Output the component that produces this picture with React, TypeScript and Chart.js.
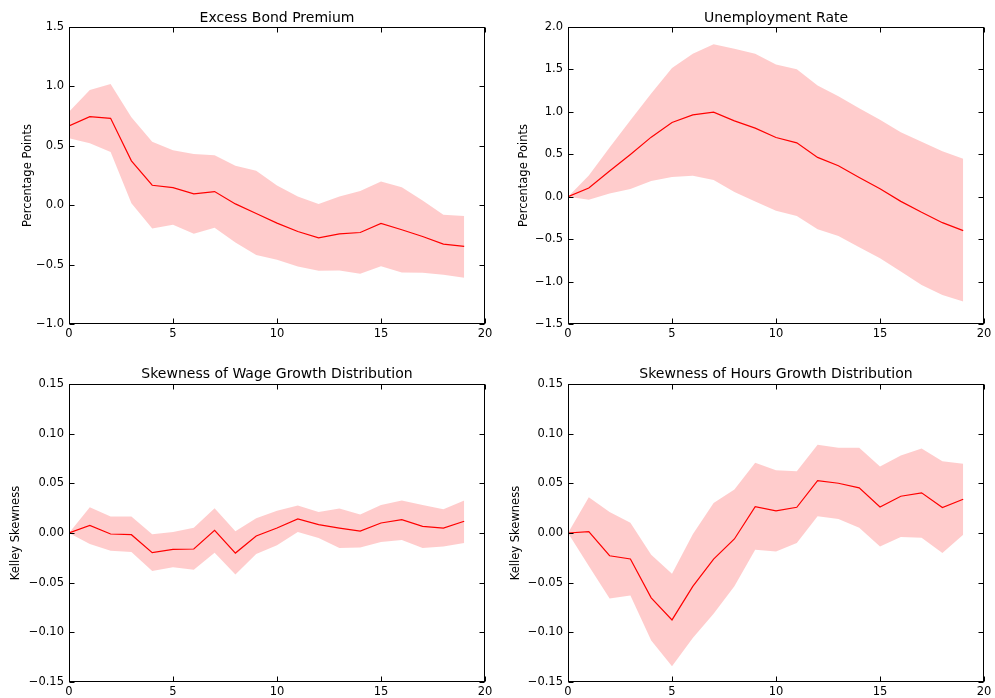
import React, { useEffect, useRef } from "react";
import { Chart, registerables } from "chart.js";

Chart.register(...registerables);

const horizons = [0, 1, 2, 3, 4, 5, 6, 7, 8, 9, 10, 11, 12, 13, 14, 15, 16, 17, 18, 19];
const xTickValues = [0, 5, 10, 15, 20];

// Excess Bond Premium
const ebpMean = [0.667, 0.745, 0.731, 0.373, 0.168, 0.148, 0.095, 0.115, 0.011, -0.07, -0.151, -0.221, -0.275, -0.241, -0.23, -0.154, -0.207, -0.263, -0.328, -0.347];
const ebpUpper = [0.787, 0.969, 1.02, 0.74, 0.535, 0.462, 0.431, 0.42, 0.333, 0.289, 0.165, 0.073, 0.011, 0.073, 0.12, 0.199, 0.151, 0.039, -0.081, -0.09];
const ebpLower = [0.563, 0.521, 0.448, 0.017, -0.196, -0.165, -0.241, -0.19, -0.314, -0.42, -0.459, -0.515, -0.552, -0.549, -0.577, -0.513, -0.566, -0.569, -0.585, -0.611];

// Unemployment Rate
const urMean = [0, 0.102, 0.302, 0.498, 0.702, 0.875, 0.965, 0.996, 0.894, 0.808, 0.698, 0.635, 0.463, 0.365, 0.227, 0.094, -0.055, -0.184, -0.306, -0.4];
const urUpper = [0, 0.251, 0.58, 0.902, 1.216, 1.518, 1.686, 1.796, 1.745, 1.686, 1.557, 1.502, 1.31, 1.184, 1.043, 0.906, 0.761, 0.647, 0.537, 0.447];
const urLower = [0, -0.035, 0.039, 0.09, 0.184, 0.231, 0.247, 0.196, 0.055, -0.055, -0.165, -0.227, -0.384, -0.463, -0.596, -0.725, -0.882, -1.039, -1.157, -1.235];

// Skewness of Wage Growth Distribution
const wageMean = [0, 0.0077, -0.001, -0.0017, -0.0198, -0.0165, -0.0161, 0.0027, -0.0202, -0.003, 0.005, 0.0141, 0.0084, 0.005, 0.002, 0.0101, 0.0135, 0.0067, 0.005, 0.0118];
const wageUpper = [0, 0.026, 0.0165, 0.0165, -0.0013, 0.001, 0.0054, 0.0249, 0.0017, 0.0148, 0.0225, 0.0276, 0.0212, 0.0246, 0.0185, 0.0283, 0.0326, 0.0283, 0.0239, 0.0326];
const wageLower = [0, -0.011, -0.0178, -0.0192, -0.0383, -0.0346, -0.037, -0.0198, -0.0417, -0.0212, -0.0124, 0.001, -0.005, -0.0151, -0.0145, -0.0091, -0.0071, -0.0151, -0.0135, -0.0101];

// Skewness of Hours Growth Distribution
const hoursMean = [0, 0.0013, -0.0229, -0.0262, -0.0653, -0.0875, -0.0538, -0.0262, -0.006, 0.0266, 0.0222, 0.0259, 0.0528, 0.0501, 0.0454, 0.0262, 0.037, 0.0404, 0.0256, 0.034];
const hoursUpper = [0, 0.036, 0.0212, 0.0104, -0.0219, -0.041, -0.0013, 0.0303, 0.0437, 0.0706, 0.0632, 0.0622, 0.0888, 0.0858, 0.0858, 0.0669, 0.078, 0.0851, 0.0723, 0.0696];
const hoursLower = [0, -0.0333, -0.0659, -0.0629, -0.1083, -0.1342, -0.1056, -0.0814, -0.0535, -0.0168, -0.0185, -0.0101, 0.0168, 0.0141, 0.0054, -0.0135, -0.004, -0.0047, -0.0202, -0.0017];

const panelTitles = ["Excess Bond Premium", "Unemployment Rate", "Skewness of Wage Growth Distribution", "Skewness of Hours Growth Distribution"];
const yLabels = ["Percentage Points", "Percentage Points", "Kelley Skewness", "Kelley Skewness"];

const FONT = '"DejaVu Sans", "Liberation Sans", sans-serif';

const toPts = (ys: number[]) => ys.map((y, i) => ({ x: horizons[i], y }));

const fmt = (v: number, d: number) => {
  const s = (Math.abs(v) < 1e-9 ? 0 : v).toFixed(d);
  return s.replace("-", "\u2212");
};

const framePlugin = {
  id: "frame",
  afterDatasetsDraw(chart: any, _args: any, opts: any) {
    const { ctx, chartArea: a, scales } = chart;
    ctx.save();
    ctx.strokeStyle = "#000";
    ctx.lineWidth = 1;
    const L = Math.round(a.left) + 0.5;
    const R = Math.round(a.right) - 0.5;
    const T = Math.round(a.top) + 0.5;
    const B = Math.round(a.bottom) - 0.5;
    const tl = 5;
    ctx.beginPath();
    scales.x.ticks.forEach((t: any) => {
      const p = Math.round(scales.x.getPixelForValue(t.value)) + 0.5;
      ctx.moveTo(p, B);
      ctx.lineTo(p, B - tl);
      ctx.moveTo(p, T);
      ctx.lineTo(p, T + tl);
    });
    scales.y.ticks.forEach((t: any) => {
      const p = Math.round(scales.y.getPixelForValue(t.value)) + 0.5;
      ctx.moveTo(L, p);
      ctx.lineTo(L + tl, p);
      ctx.moveTo(R, p);
      ctx.lineTo(R - tl, p);
    });
    ctx.stroke();
    ctx.strokeRect(L, T, R - L, B - T);
    ctx.fillStyle = "#000";
    ctx.font = `14px ${FONT}`;
    ctx.textAlign = "center";
    ctx.textBaseline = "alphabetic";
    ctx.fillText(opts.title, (a.left + a.right) / 2, a.top - opts.gap);
    ctx.restore();
  },
};

type Panel = {
  title: string;
  yLabel: string;
  mean: number[];
  upper: number[];
  lower: number[];
  yMin: number;
  yMax: number;
  yStep: number;
  decimals: number;
  left: number;
  top: number;
  w: number;
  h: number;
  yAxisW: number;
  padTop: number;
  padRight: number;
  padBottom: number;
  yTitlePad: number;
  titleGap: number;
};

const panels: Panel[] = [
  { title: panelTitles[0], yLabel: yLabels[0], mean: ebpMean, upper: ebpUpper, lower: ebpLower, yMin: -1, yMax: 1.5, yStep: 0.5, decimals: 1, left: 0, top: 0, w: 497, h: 349, yAxisW: 69, padTop: 27, padRight: 12, padBottom: 9, yTitlePad: 21, titleGap: 5 },
  { title: panelTitles[1], yLabel: yLabels[1], mean: urMean, upper: urUpper, lower: urLower, yMin: -1.5, yMax: 2, yStep: 0.5, decimals: 1, left: 497, top: 0, w: 498, h: 349, yAxisW: 71, padTop: 27, padRight: 11, padBottom: 9, yTitlePad: 20, titleGap: 5 },
  { title: panelTitles[2], yLabel: yLabels[2], mean: wageMean, upper: wageUpper, lower: wageLower, yMin: -0.15, yMax: 0.15, yStep: 0.05, decimals: 2, left: 0, top: 349, w: 497, h: 349, yAxisW: 69, padTop: 35, padRight: 12, padBottom: 0, yTitlePad: 9, titleGap: 6 },
  { title: panelTitles[3], yLabel: yLabels[3], mean: hoursMean, upper: hoursUpper, lower: hoursLower, yMin: -0.15, yMax: 0.15, yStep: 0.05, decimals: 2, left: 497, top: 349, w: 498, h: 349, yAxisW: 71, padTop: 35, padRight: 11, padBottom: 0, yTitlePad: 12, titleGap: 6 },
];

function PanelChart({ p }: { p: Panel }) {
  const ref = useRef<HTMLCanvasElement | null>(null);
  useEffect(() => {
    if (!ref.current) return;
    const chart = new Chart(ref.current, {
      type: "line",
      data: {
        datasets: [
          {
            data: toPts(p.mean),
            borderColor: "#ff0000",
            borderWidth: 1.2,
            pointRadius: 0,
            fill: false,
            tension: 0,
          },
          {
            data: toPts(p.upper),
            borderWidth: 0,
            borderColor: "rgba(0,0,0,0)",
            backgroundColor: "rgba(255,0,0,0.2)",
            pointRadius: 0,
            fill: "+1",
            tension: 0,
          },
          {
            data: toPts(p.lower),
            borderWidth: 0,
            borderColor: "rgba(0,0,0,0)",
            pointRadius: 0,
            fill: false,
            tension: 0,
          },
        ],
      },
      options: {
        responsive: false,
        animation: false,
        events: [],
        layout: { padding: { left: 0, top: p.padTop, right: p.padRight, bottom: p.padBottom } },
        plugins: {
          legend: { display: false },
          tooltip: { enabled: false },
          filler: { drawTime: "beforeDatasetsDraw" },
          frame: { title: p.title, gap: p.titleGap },
        } as any,
        scales: {
          x: {
            type: "linear",
            min: 0,
            max: 20,
            afterBuildTicks: (s: any) => {
              s.ticks = xTickValues.map((v) => ({ value: v }));
            },
            afterFit: (s: any) => {
              s.height = 16;
            },
            grid: { display: false, drawTicks: false },
            border: { display: false },
            ticks: {
              autoSkip: false,
              maxRotation: 0,
              padding: 3,
              color: "#000",
              font: { family: FONT, size: 11.5 },
              callback: (v: any) => String(v),
            },
          },
          y: {
            type: "linear",
            min: p.yMin,
            max: p.yMax,
            afterFit: (s: any) => {
              s.width = p.yAxisW;
            },
            grid: { display: false, drawTicks: false },
            border: { display: false },
            ticks: {
              stepSize: p.yStep,
              padding: 5,
              color: "#000",
              font: { family: FONT, size: 11.5 },
              callback: (v: any) => fmt(Number(v), p.decimals),
            },
            title: {
              display: true,
              text: p.yLabel,
              color: "#000",
              font: { family: FONT, size: 11.5 },
              padding: { top: p.yTitlePad, bottom: 0 },
            },
          },
        },
      },
      plugins: [framePlugin],
    });
    return () => chart.destroy();
  }, [p]);
  return (
    <canvas
      ref={ref}
      width={p.w}
      height={p.h}
      style={{ position: "absolute", left: p.left, top: p.top, width: p.w, height: p.h }}
    />
  );
}

export default function App() {
  return (
    <div style={{ position: "absolute", left: 0, top: 0, width: 995, height: 698, background: "#fff" }}>
      {panels.map((p, i) => (
        <PanelChart key={i} p={p} />
      ))}
    </div>
  );
}
